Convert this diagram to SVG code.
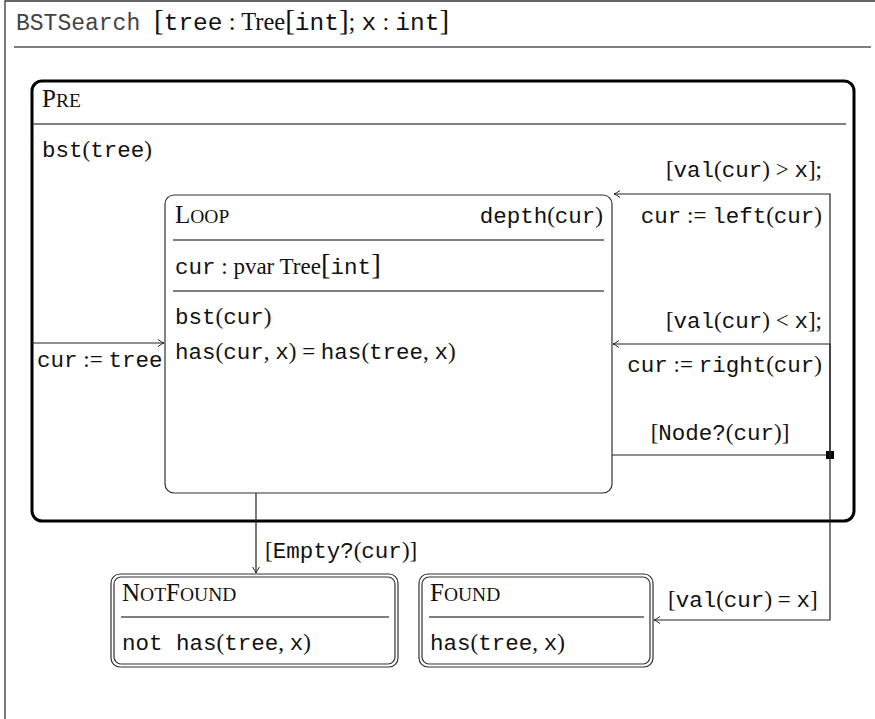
<svg xmlns="http://www.w3.org/2000/svg" width="875" height="719" viewBox="0 0 875 719">
  <style>
    text { font-size: 22.5px; fill: #111; }
    .tt { font-family: "Liberation Mono", "DejaVu Sans Mono", monospace; }
    .rm { font-family: "Liberation Serif", "DejaVu Serif", serif; font-size: 23px; }
    .hd { font-family: "Liberation Mono", "DejaVu Sans Mono", monospace; fill: #444; font-size: 23px; }
    .sig { font-size: 24.5px; }
    .big { font-size: 29px; }
    .sc { font-family: "Liberation Serif", "DejaVu Serif", serif; font-size: 25px; }
    .scs { font-size: 19.5px; }
    .rule { stroke: #555; stroke-width: 1.3; fill: none; }
    .frame { stroke: #333; stroke-width: 1.3; fill: none; }
    .state { stroke: #333; stroke-width: 1.2; fill: #fff; }
    .super { stroke: #000; stroke-width: 3; fill: none; }
    .final { stroke: #333; stroke-width: 1.2; fill: none; }
    .edge { stroke: #222; stroke-width: 1.2; fill: none; marker-end: url(#tip); }
    .plain { stroke: #222; stroke-width: 1.2; fill: none; }
  </style>
  <defs>
    <marker id="tip" viewBox="-8 -5 10 10" refX="0" refY="0" markerWidth="10" markerHeight="10" markerUnits="userSpaceOnUse" orient="auto">
      <path d="M -6 -3.5 Q -2 -0.6 0 0 Q -2 0.6 -6 3.5" fill="none" stroke="#222" stroke-width="1"/>
    </marker>
  </defs>

  <!-- machine frame and signature -->
  <g id="frame">
    <path class="frame" d="M 5 719 V 1 H 875"/>
    <line class="rule" x1="14" y1="47" x2="871" y2="47"/>
    <text x="16" y="30"><tspan class="hd">BSTSearch </tspan><tspan class="rm big">[</tspan><tspan class="tt sig">tree</tspan><tspan class="rm sig"> : Tree</tspan><tspan class="rm big">[</tspan><tspan class="tt sig">int</tspan><tspan class="rm big">]</tspan><tspan class="rm sig">; </tspan><tspan class="tt sig">x</tspan><tspan class="rm sig"> : </tspan><tspan class="tt sig">int</tspan><tspan class="rm big">]</tspan></text>
  </g>

  <!-- precondition superstate -->
  <g id="pre">
    <rect class="super" x="32" y="81" width="822" height="440" rx="10"/>
    <text class="sc" x="42" y="107">P<tspan class="scs">RE</tspan></text>
    <line class="rule" x1="33" y1="124" x2="846" y2="124"/>
    <text x="42" y="157"><tspan class="tt">bst</tspan><tspan class="rm">(</tspan><tspan class="tt">tree</tspan><tspan class="rm">)</tspan></text>
  </g>

  <!-- loop state -->
  <g id="loop">
    <rect class="state" x="165" y="195" width="447" height="298" rx="9"/>
    <text class="sc" x="175" y="223">L<tspan class="scs">OOP</tspan></text>
    <text x="603" y="223" text-anchor="end"><tspan class="tt">depth</tspan><tspan class="rm">(</tspan><tspan class="tt">cur</tspan><tspan class="rm">)</tspan></text>
    <line class="rule" x1="173" y1="240" x2="604" y2="240"/>
    <text x="175" y="274"><tspan class="tt">cur</tspan><tspan class="rm"> : pvar Tree</tspan><tspan class="rm big">[</tspan><tspan class="tt">int</tspan><tspan class="rm big">]</tspan></text>
    <line class="rule" x1="173" y1="291" x2="604" y2="291"/>
    <text x="175" y="324"><tspan class="tt">bst</tspan><tspan class="rm">(</tspan><tspan class="tt">cur</tspan><tspan class="rm">)</tspan></text>
    <text x="175" y="359"><tspan class="tt">has</tspan><tspan class="rm">(</tspan><tspan class="tt">cur</tspan><tspan class="rm">, </tspan><tspan class="tt">x</tspan><tspan class="rm">) = </tspan><tspan class="tt">has</tspan><tspan class="rm">(</tspan><tspan class="tt">tree</tspan><tspan class="rm">, </tspan><tspan class="tt">x</tspan><tspan class="rm">)</tspan></text>
  </g>

  <!-- final states -->
  <g id="notfound">
    <rect class="final" x="111" y="574" width="287" height="93" rx="9"/>
    <rect class="final" x="114" y="577" width="281" height="87" rx="7"/>
    <text class="sc" x="122" y="601">N<tspan class="scs">OT</tspan>F<tspan class="scs">OUND</tspan></text>
    <line class="rule" x1="121" y1="617" x2="389" y2="617"/>
    <text x="122" y="650"><tspan class="tt">not has</tspan><tspan class="rm">(</tspan><tspan class="tt">tree</tspan><tspan class="rm">, </tspan><tspan class="tt">x</tspan><tspan class="rm">)</tspan></text>
  </g>

  <g id="found">
    <rect class="final" x="419" y="574" width="234" height="93" rx="9"/>
    <rect class="final" x="422" y="577" width="228" height="87" rx="7"/>
    <text class="sc" x="430" y="601">F<tspan class="scs">OUND</tspan></text>
    <line class="rule" x1="429" y1="617" x2="644" y2="617"/>
    <text x="430" y="650"><tspan class="tt">has</tspan><tspan class="rm">(</tspan><tspan class="tt">tree</tspan><tspan class="rm">, </tspan><tspan class="tt">x</tspan><tspan class="rm">)</tspan></text>
  </g>

  <!-- transitions -->
  <g id="connectors">
    <line class="edge" x1="32" y1="343" x2="164" y2="343"/>
    <text x="37" y="367"><tspan class="tt">cur</tspan><tspan class="rm"> := </tspan><tspan class="tt">tree</tspan></text>

    <polyline class="plain" points="612,455 830,455"/>
    <rect x="826" y="451" width="8" height="8" fill="#000"/>
    <text x="720" y="440" text-anchor="middle"><tspan class="rm">[</tspan><tspan class="tt">Node?</tspan><tspan class="rm">(</tspan><tspan class="tt">cur</tspan><tspan class="rm">)]</tspan></text>

    <polyline class="edge" points="830,455 830,194 614,194"/>
    <text x="822" y="177" text-anchor="end"><tspan class="rm">[</tspan><tspan class="tt">val</tspan><tspan class="rm">(</tspan><tspan class="tt">cur</tspan><tspan class="rm">) &gt; </tspan><tspan class="tt">x</tspan><tspan class="rm">];</tspan></text>
    <text x="822" y="223" text-anchor="end"><tspan class="tt">cur</tspan><tspan class="rm"> := </tspan><tspan class="tt">left</tspan><tspan class="rm">(</tspan><tspan class="tt">cur</tspan><tspan class="rm">)</tspan></text>

    <polyline class="edge" points="830,455 830,344 613,344"/>
    <text x="822" y="328" text-anchor="end"><tspan class="rm">[</tspan><tspan class="tt">val</tspan><tspan class="rm">(</tspan><tspan class="tt">cur</tspan><tspan class="rm">) &lt; </tspan><tspan class="tt">x</tspan><tspan class="rm">];</tspan></text>
    <text x="822" y="372" text-anchor="end"><tspan class="tt">cur</tspan><tspan class="rm"> := </tspan><tspan class="tt">right</tspan><tspan class="rm">(</tspan><tspan class="tt">cur</tspan><tspan class="rm">)</tspan></text>

    <polyline class="edge" points="830,455 830,620 654,620"/>
    <text x="668" y="607"><tspan class="rm">[</tspan><tspan class="tt">val</tspan><tspan class="rm">(</tspan><tspan class="tt">cur</tspan><tspan class="rm">) = </tspan><tspan class="tt">x</tspan><tspan class="rm">]</tspan></text>

    <line class="edge" x1="256" y1="493" x2="256" y2="573"/>
    <text x="265" y="558"><tspan class="rm">[</tspan><tspan class="tt">Empty?</tspan><tspan class="rm">(</tspan><tspan class="tt">cur</tspan><tspan class="rm">)]</tspan></text>
  </g>
</svg>
